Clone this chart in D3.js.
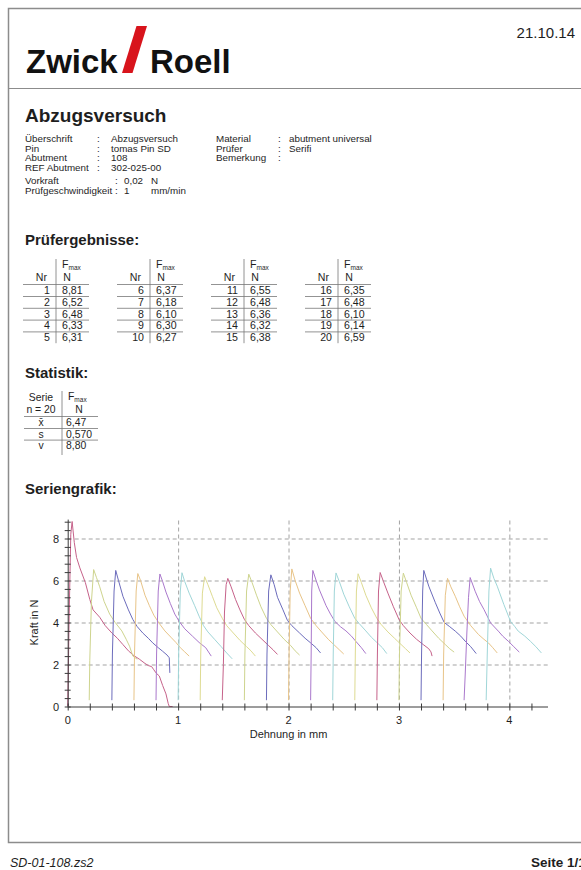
<!DOCTYPE html>
<html>
<head>
<meta charset="utf-8">
<script src="https://cdn.jsdelivr.net/npm/d3@7"></script>
<style>
  body { margin: 0; background: #fff; }
  text { font-family: "Liberation Sans", Arial, Helvetica, sans-serif; fill: #1e1e1e; }
</style>
</head>
<body>
<svg id="page" width="581" height="870"></svg>
<script>
// ---- data ----
const specimenNr = [1,2,3,4,5,6,7,8,9,10,11,12,13,14,15,16,17,18,19,20];
const fmaxN = [8.81,6.52,6.48,6.33,6.31,6.37,6.18,6.10,6.30,6.27,6.55,6.48,6.36,6.32,6.38,6.35,6.48,6.10,6.14,6.59];

const statLabels = ["x\u0304", "s", "v"];
const statValues = ["6,47", "0,570", "8,80"];

const headLeft = [["Überschrift","Abzugsversuch"],["Pin","tomas Pin SD"],["Abutment","108"],["REF Abutment","302-025-00"]];
const headRight = [["Material","abutment universal"],["Prüfer","Serifi"],["Bemerkung",""]];
const testParams = [["Vorkraft","0,02","N"],["Prüfgeschwindigkeit","1","mm/min"]];

const xTicks = [0,1,2,3,4];
const yTicks = [0,2,4,6,8];

// colours used by the series graphic (repeat every 7 specimens)
const seriesColors = ["#c6628a","#ced48e","#6c6cbc","#e8c488","#aa78cc","#a0d6d8","#dedb92"];

// Dehnung (mm), Kraft (N) per specimen
const curves = [
  [[0,0],[0.005,1.5],[0.012,4.0],[0.028,8.2],[0.04,8.81],[0.06,7.8],[0.08,7.1],[0.11,6.6],[0.16,5.9],[0.2,5.1],[0.23,4.6],[0.29,4.25],[0.34,3.85],[0.4,3.5],[0.45,3.25],[0.5,2.95],[0.55,2.65],[0.6,2.42],[0.65,2.25],[0.7,2.05],[0.73,1.95],[0.76,1.9],[0.78,1.75],[0.8,1.6],[0.83,1.45],[0.86,1.0],[0.89,0.6],[0.91,0.15],[0.92,0],[0.95,0]],
  [[0.195,0.3],[0.2,2.2],[0.215,5.0],[0.235,6.52],[0.26,6.15],[0.29,5.7],[0.33,5.0],[0.38,4.4],[0.43,4.0],[0.49,3.6],[0.53,3.2],[0.56,2.87],[0.59,2.4],[0.63,2.25]],
  [[0.4,0.3],[0.405,2.5],[0.42,5.5],[0.435,6.48],[0.46,6.0],[0.5,5.25],[0.55,4.6],[0.59,4.14],[0.63,3.8],[0.68,3.5],[0.73,3.25],[0.77,3.03],[0.82,2.8],[0.86,2.63],[0.9,2.45],[0.92,2.32],[0.925,1.6]],
  [[0.6,0.3],[0.605,2.5],[0.62,5.5],[0.635,6.33],[0.66,6.0],[0.7,5.3],[0.74,4.8],[0.78,4.35],[0.83,3.95],[0.88,3.6],[0.94,3.27],[0.98,3.05],[1.02,2.8],[1.06,2.6],[1.1,2.4]],
  [[0.8,0.3],[0.805,2.5],[0.82,5.5],[0.835,6.31],[0.86,5.95],[0.89,5.45],[0.93,4.9],[0.97,4.4],[1.01,4.05],[1.06,3.7],[1.13,3.35],[1.19,3.05],[1.25,2.8],[1.3,2.4]],
  [[1.0,0.3],[1.005,2.5],[1.02,5.5],[1.035,6.37],[1.06,5.95],[1.1,5.4],[1.15,4.8],[1.19,4.3],[1.23,3.85],[1.27,3.55],[1.33,3.2],[1.39,2.85],[1.44,2.55],[1.49,2.27]],
  [[1.2,0.3],[1.205,2.5],[1.22,5.4],[1.24,6.18],[1.27,5.8],[1.31,5.25],[1.35,4.7],[1.4,4.2],[1.44,3.85],[1.5,3.5],[1.56,3.15],[1.62,2.85],[1.66,2.65],[1.7,2.4]],
  [[1.4,0.3],[1.41,2.0],[1.42,4.5],[1.435,5.8],[1.45,6.1],[1.48,5.7],[1.52,5.1],[1.56,4.6],[1.6,4.15],[1.64,3.85],[1.7,3.5],[1.76,3.2],[1.82,2.9],[1.86,2.7],[1.9,2.48]],
  [[1.6,0.3],[1.605,2.5],[1.62,5.5],[1.64,6.3],[1.67,5.9],[1.71,5.3],[1.75,4.75],[1.8,4.2],[1.84,3.9],[1.9,3.55],[1.96,3.2],[2.02,2.9],[2.06,2.65],[2.1,2.45]],
  [[1.8,0.3],[1.805,2.5],[1.82,5.5],[1.84,6.27],[1.87,5.8],[1.9,5.2],[1.95,4.6],[1.99,4.1],[2.03,3.85],[2.1,3.5],[2.15,3.25],[2.2,3.03],[2.25,2.8],[2.29,2.55]],
  [[2.0,0.3],[2.005,2.5],[2.015,5.5],[2.03,6.55],[2.06,6.0],[2.1,5.4],[2.15,4.8],[2.2,4.2],[2.25,3.85],[2.3,3.55],[2.36,3.2],[2.42,2.9],[2.46,2.7],[2.5,2.5]],
  [[2.2,0.3],[2.205,2.5],[2.21,5.5],[2.22,6.48],[2.25,6.0],[2.28,5.55],[2.34,4.8],[2.38,4.4],[2.42,4.05],[2.47,3.8],[2.52,3.6],[2.57,3.35],[2.61,3.1],[2.66,2.8],[2.7,2.52]],
  [[2.4,0.3],[2.405,2.5],[2.415,5.5],[2.43,6.36],[2.46,5.95],[2.5,5.35],[2.55,4.75],[2.6,4.2],[2.64,3.95],[2.7,3.6],[2.75,3.3],[2.8,3.05],[2.85,2.8],[2.89,2.52]],
  [[2.6,0.3],[2.605,2.5],[2.615,5.5],[2.63,6.32],[2.66,5.9],[2.7,5.3],[2.75,4.7],[2.8,4.2],[2.84,3.9],[2.9,3.55],[2.96,3.25],[3.01,3.0],[3.06,2.75],[3.1,2.55]],
  [[2.8,0.3],[2.805,2.5],[2.815,5.5],[2.83,6.38],[2.86,5.95],[2.9,5.4],[2.95,4.75],[3.0,4.15],[3.04,3.85],[3.1,3.5],[3.16,3.2],[3.22,2.95],[3.27,2.75],[3.29,2.6],[3.3,2.4]],
  [[3.0,0.3],[3.005,2.5],[3.02,5.5],[3.04,6.35],[3.07,5.9],[3.11,5.3],[3.16,4.7],[3.2,4.2],[3.25,3.9],[3.3,3.6],[3.36,3.25],[3.42,2.95],[3.46,2.75],[3.5,2.59]],
  [[3.2,0.3],[3.205,2.5],[3.215,5.5],[3.225,6.48],[3.27,5.73],[3.33,4.94],[3.37,4.45],[3.41,4.0],[3.46,3.8],[3.51,3.59],[3.56,3.35],[3.6,3.11],[3.65,2.85],[3.7,2.52]],
  [[3.4,0.3],[3.405,2.5],[3.42,5.3],[3.44,6.1],[3.47,5.7],[3.51,5.25],[3.55,4.75],[3.59,4.3],[3.65,3.85],[3.72,3.43],[3.77,3.2],[3.81,3.03],[3.85,2.8],[3.89,2.55]],
  [[3.59,0.3],[3.6,1.5],[3.615,3.5],[3.63,5.2],[3.645,6.14],[3.69,5.49],[3.73,5.0],[3.77,4.62],[3.83,3.98],[3.9,3.59],[3.94,3.35],[3.99,3.11],[4.04,2.85],[4.09,2.59]],
  [[3.79,0.3],[3.8,2.5],[3.815,5.5],[3.83,6.59],[3.86,6.1],[3.89,5.73],[3.95,4.86],[4.01,4.06],[4.05,3.8],[4.08,3.59],[4.14,3.35],[4.19,3.11],[4.24,2.85],[4.29,2.55]]
];

const de = d3.formatLocale({decimal: ",", thousands: ".", grouping: [3], currency: ["", " €"]});
const f2 = de.format(".2f");

const svg = d3.select("#page");
svg.append("rect").attr("width", 581).attr("height", 870).attr("fill", "#fff");

// page frame
const frame = svg.append("g").attr("stroke", "#8c8c8c").attr("stroke-width", 1.5).attr("fill", "none");
frame.append("path").attr("d", "M581,8.5 H8.5 V842.5 H581");
frame.append("line").attr("x1", 8.5).attr("x2", 581).attr("y1", 88.5).attr("y2", 88.5).attr("stroke-width", 1.2);

// logo
svg.append("text").attr("x", 26).attr("y", 73).attr("font-size", 33).attr("font-weight", "bold")
  .style("fill", "#111").text("Zwick");
svg.append("path").attr("d", "M122,73 L132.5,73 L147,26 L136.5,26 Z").attr("fill", "#d8141c");
svg.append("text").attr("x", 150).attr("y", 73).attr("font-size", 33).attr("font-weight", "bold")
  .style("fill", "#111").text("Roell");
svg.append("text").attr("x", 575).attr("y", 38).attr("font-size", 15).attr("text-anchor", "end").text("21.10.14");

// title + header data
svg.append("text").attr("x", 25).attr("y", 122).attr("font-size", 19).attr("font-weight", "bold").text("Abzugsversuch");

function kvBlock(rows, x0, xColon, xVal, y0, dy) {
  const g = svg.append("g").attr("font-size", 9.8);
  rows.forEach((r, i) => {
    const yy = y0 + i * dy;
    g.append("text").attr("x", x0).attr("y", yy).text(r[0]);
    g.append("text").attr("x", xColon).attr("y", yy).text(":");
    g.append("text").attr("x", xVal).attr("y", yy).text(r[1]);
    if (r[2]) g.append("text").attr("x", xVal + 27).attr("y", yy).text(r[2]);
  });
}
kvBlock(headLeft, 25, 97, 111, 142, 9.6);
kvBlock(headRight, 216, 278, 289, 142, 9.6);
kvBlock(testParams, 25, 115, 124, 184, 9.8);

// results tables
svg.append("text").attr("x", 25).attr("y", 245).attr("font-size", 15).attr("font-weight", "bold").text("Prüfergebnisse:");

const blockX = [56, 150, 244, 338];
const rowTop = 290, rowH = 11.8;
blockX.forEach((vx, b) => {
  const g = svg.append("g").attr("font-size", 10.6);
  const rows = specimenNr.slice(b * 5, b * 5 + 5);
  g.append("line").attr("x1", vx).attr("x2", vx).attr("y1", 259).attr("y2", rowTop + 4 * rowH + 6)
    .attr("stroke", "#777").attr("stroke-width", 0.8);
  g.append("text").attr("x", vx + 6).attr("y", 268).text("F")
    .append("tspan").attr("font-size", 6.5).attr("dy", 1.5).text("max");
  g.append("text").attr("x", vx - 9).attr("y", 281).attr("text-anchor", "end").text("Nr");
  g.append("text").attr("x", vx + 11).attr("y", 281).attr("text-anchor", "middle").text("N");
  g.append("line").attr("x1", vx - 33).attr("x2", vx + 33).attr("y1", 284.5).attr("y2", 284.5)
    .attr("stroke", "#777").attr("stroke-width", 0.8);
  rows.forEach((nr, i) => {
    const yy = rowTop + i * rowH;
    g.append("text").attr("x", vx - 6).attr("y", yy + 4).attr("text-anchor", "end").text(nr);
    g.append("text").attr("x", vx + 6).attr("y", yy + 4).text(f2(fmaxN[nr - 1]));
    if (i < rows.length - 1)
      g.append("line").attr("x1", vx - 33).attr("x2", vx + 33).attr("y1", yy + 6.5).attr("y2", yy + 6.5)
        .attr("stroke", "#777").attr("stroke-width", 0.8);
  });
});

// statistics
svg.append("text").attr("x", 25).attr("y", 378).attr("font-size", 15).attr("font-weight", "bold").text("Statistik:");
{
  const g = svg.append("g").attr("font-size", 10.4);
  const vx = 62;
  g.append("line").attr("x1", vx).attr("x2", vx).attr("y1", 391).attr("y2", 455).attr("stroke", "#777").attr("stroke-width", 0.8);
  g.append("text").attr("x", 41).attr("y", 401).attr("text-anchor", "middle").text("Serie");
  g.append("text").attr("x", 41).attr("y", 413).attr("text-anchor", "middle").text("n = 20");
  g.append("text").attr("x", 68).attr("y", 400).text("F").append("tspan").attr("font-size", 6.5).attr("dy", 1.5).text("max");
  g.append("text").attr("x", 79).attr("y", 413).attr("text-anchor", "middle").text("N");
  g.append("line").attr("x1", 24).attr("x2", 98).attr("y1", 416.5).attr("y2", 416.5).attr("stroke", "#777").attr("stroke-width", 0.8);
  statLabels.forEach((l, i) => {
    const yy = 426 + i * 11.6;
    g.append("text").attr("x", 41).attr("y", yy).attr("text-anchor", "middle").text(l);
    g.append("text").attr("x", vx + 4).attr("y", yy).text(statValues[i]);
    if (i < statLabels.length - 1)
      g.append("line").attr("x1", 24).attr("x2", 98).attr("y1", yy + 2.5).attr("y2", yy + 2.5).attr("stroke", "#777").attr("stroke-width", 0.8);
  });
}

// series graphic
svg.append("text").attr("x", 25).attr("y", 494).attr("font-size", 15).attr("font-weight", "bold").text("Seriengrafik:");

const x = d3.scaleLinear().domain([0, 4.35]).range([67.7, 548]);
const y = d3.scaleLinear().domain([0, 8.9]).range([706.5, 519.6]);

const chart = svg.append("g");

// grid
chart.append("g").selectAll("line").data(yTicks.filter(d => d > 0)).join("line")
  .attr("x1", x(0)).attr("x2", x(4.35)).attr("y1", d => y(d) + 0.5).attr("y2", d => y(d) + 0.5)
  .attr("stroke", "#999").attr("stroke-width", 0.9).attr("stroke-dasharray", "4,3");
chart.append("g").selectAll("line").data(xTicks.filter(d => d > 0)).join("line")
  .attr("x1", d => x(d) + 0.5).attr("x2", d => x(d) + 0.5).attr("y1", y(0)).attr("y2", y(8.9))
  .attr("stroke", "#999").attr("stroke-width", 0.9).attr("stroke-dasharray", "4,3");

// curves
const line = d3.line().x(d => x(d[0])).y(d => y(d[1]));
chart.append("g").attr("fill", "none").attr("stroke-width", 1).attr("stroke-linejoin", "round")
  .selectAll("path").data(curves).join("path")
  .attr("stroke", (d, i) => seriesColors[i % seriesColors.length])
  .attr("d", line);

// axes with crossing minor ticks
const xAxis = d3.axisBottom(x).tickValues(d3.range(0, 4.3, 0.2)).tickSize(4).tickFormat("");
const gx = chart.append("g").attr("transform", `translate(0,${y(0)})`).call(xAxis);
gx.select(".domain").attr("d", `M${x(0)},0.5H${x(4.35)}`);
gx.selectAll(".tick line").attr("y1", -3).attr("y2", 4);
gx.selectAll("path,line").attr("stroke", "#3a3a3a");

const yAxis = d3.axisLeft(y).tickValues(d3.range(0, 8.9, 0.4)).tickSize(3).tickFormat("");
const gy = chart.append("g").attr("transform", `translate(${x(0)},0)`).call(yAxis);
gy.select(".domain").attr("d", `M0.5,${y(0)}V${y(8.9)}`);
gy.selectAll(".tick line").attr("x1", -3).attr("x2", 3);
gy.selectAll("path,line").attr("stroke", "#3a3a3a");

chart.append("g").attr("font-size", 11).selectAll("text").data(xTicks).join("text")
  .attr("x", d => x(d)).attr("y", 724).attr("text-anchor", "middle").text(d => d);
chart.append("g").attr("font-size", 11).selectAll("text").data(yTicks).join("text")
  .attr("x", 59).attr("y", d => y(d) + 4).attr("text-anchor", "end").text(d => d);

chart.append("text").attr("x", x(2)).attr("y", 738).attr("font-size", 11).attr("text-anchor", "middle").text("Dehnung in mm");
chart.append("text").attr("transform", `translate(38,${y(4)}) rotate(-90)`).attr("font-size", 11)
  .attr("text-anchor", "middle").text("Kraft in N");

// footer (the page number runs off the right edge, as in the scan)
svg.append("text").attr("x", 10).attr("y", 867).attr("font-size", 12.5).attr("font-style", "italic").text("SD-01-108.zs2");
svg.append("text").attr("x", 531).attr("y", 867).attr("font-size", 13.5).attr("font-weight", "bold").text("Seite 1/1");
</script>
</body>
</html>
